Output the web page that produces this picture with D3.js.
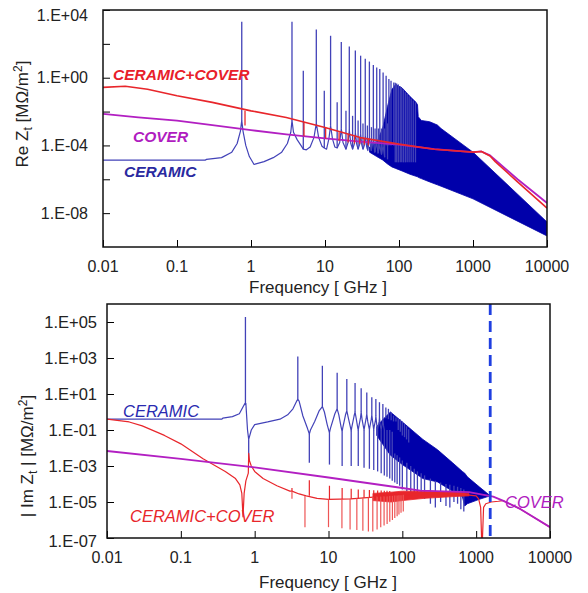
<!DOCTYPE html>
<html>
<head>
<meta charset="utf-8">
<script src="https://cdn.jsdelivr.net/npm/d3@7"></script>
<style>
  body { margin: 0; background: #fff; }
  text { font-family: "Liberation Sans", Arial, sans-serif; }
</style>
</head>
<body>
<svg width="588" height="593"></svg>
<script>
// ---------- shared axis data ----------
var xTicks = [0.01, 0.1, 1, 10, 100, 1000, 10000];
var xTickLabels = ["0.01", "0.1", "1", "10", "100", "1000", "10000"];

var reTicks = [1e4, 1e2, 1, 1e-2, 1e-4, 1e-6, 1e-8];
var reTickLabels = ["1.E+04", "", "1.E+00", "", "1.E-04", "", "1.E-08"];
var imTicks = [1e5, 1e3, 1e1, 1e-1, 1e-3, 1e-5, 1e-7];
var imTickLabels = ["1.E+05", "1.E+03", "1.E+01", "1.E-01", "1.E-03", "1.E-05", "1.E-07"];

// ---------- Re Zt (top panel) ----------
var reCover = [[0.01,7.4e-3],[0.03,4.5e-3],[0.1,2.9e-3],[0.3,1.6e-3],[1,8e-4],[3,4.5e-4],[10,2.6e-4],
  [30,1.7e-4],[100,1.1e-4],[300,6e-5],[1000,4e-5],[1300,4.4e-5],[1700,2.6e-5],[2000,1.4e-5],[4000,1e-6],[10000,4e-8]];

var reCerCover = [[0.01,0.27],[0.02,0.31],[0.04,0.21],[0.1,0.085],[0.3,0.035],[1,0.011],[3,4.5e-3],[10,1.15e-3],
  [30,2.9e-4],[100,1.2e-4],[300,6e-5],[1000,4e-5],[1300,4.4e-5],[1700,2.4e-5],[2000,1.1e-5],[4000,7e-7],[10000,2e-8]];
// short downward notches of the red curve: [freq, from, to]
var reCerCoverNotches = [[0.83,0.011,1.5e-3],[5.2,2.5e-3,3.5e-4],[10.2,1.1e-3,2.5e-4],[15.5,6e-4,1.8e-4],
  [20.5,4.5e-4,1.5e-4],[25,3.5e-4,1.3e-4],[29.5,3e-4,1.2e-4],[34,2.5e-4,1.1e-4],[38.5,2.2e-4,1e-4]];

var reCeramic = [[0.01,1.35e-5],[0.24,1.35e-5],[0.25,1.5e-5],[0.4,1.9e-5],[0.55,4e-5],[0.65,1.3e-4],[0.72,7e-4],
  [0.75,3e-3],[0.78,7e-4],[0.85,1e-4],[0.95,2.2e-5],[1.1,7.5e-6],[1.5,1.1e-5],[2,1.9e-5],[2.6,4e-5],[3.1,1.3e-4],
  [3.45,6e-4],[3.58,3e-3],[3.75,6e-4],[4.2,2.2e-4],[4.8,9e-5],[5.09,6e-5],[5.6,5.5e-5],[6.3,8e-5],[7.1,3e-4],
  [7.63,2e-3],[8.2,3e-4],[9.1,9e-5],[9.78,7e-5],[10.5,6e-5],[11.3,2.5e-4],[11.9,1.5e-3],[12.6,2.5e-4],[13.6,8e-5],
  [14.6,7e-5],[15.8,1.5e-4],[16.6,1e-3],[17.5,1.5e-4],[19.2,6e-5],[20.5,1.5e-4],[21.3,8e-4],[22.3,1.3e-4],
  [23.6,6e-5],[25,1.3e-4],[25.7,6e-4],[26.8,1.2e-4],[28,6e-5],[29.5,1.2e-4],[30.3,5e-4],[31.4,1.1e-4],
  [32.6,6e-5],[34.2,1.1e-4],[35,4e-4],[36.5,9e-5],[38,5e-5],[39.8,3e-4],[42,5e-5],[45,2e-4],[47,4e-5],
  [50,1.5e-4],[52,3.5e-5],[55,1e-4],[58,3e-5],[61,1e-4],[64,2e-5]];
// resonance spikes: [freq, foot, top]
var reCeramicSpikes = [[0.75,3e-3,2e3],[3.58,3e-3,2e3],[5.09,6e-5,2.6],[7.63,2e-3,700],[9.78,7e-5,0.17],
  [11.9,1.5e-3,300],[14.6,7e-5,0.035],[16.6,1e-3,130],[19.2,6e-5,0.011],[21.3,8e-4,71],[23.6,6e-5,5.6e-3],
  [25.7,6e-4,40],[28,6e-5,3e-3],[30.3,5e-4,20],[32.6,6e-5,2e-3],[35,4e-4,13],[37.4,6e-5,1.5e-3],[39.8,3e-4,9],
  [42.4,5e-5,1.2e-3],[45,2e-4,5.6],[47.5,4e-5,1e-3],[50,1.5e-4,4],[52.6,3.5e-5,1e-3],[55,1e-4,3.3],
  [58,3e-5,1e-3],[61,1e-4,2],[64,2e-5,1e-3],[67,1e-4,1.3],[70,1.5e-5,2e-3],[73,1e-4,0.85],[78,1e-4,0.66],
  [85,1e-4,0.53],[89,1e-5,0.5],[93,1e-5,0.45],[98,1e-5,0.4],[104,1e-5,0.3],[109,1e-5,0.25],[115,1e-5,0.2],
  [122,1e-5,0.14],[129,1e-5,0.11],[137,1e-5,0.08],[146,1e-5,0.06],[156,1e-5,0.045],[167,1e-5,0.035]];
// dense resonance band: [freq, lower envelope, upper envelope]
var reCeramicBand = [[40,4e-5,8e-5],[50,2.2e-5,1.5e-4],[60,1.4e-5,1e-3],[70,8e-6,0.02],[80,5.4e-6,0.2],
  [90,4.4e-6,0.4],[110,3.1e-6,0.25],[140,2e-6,0.08],[170,1.5e-6,0.035],[178,1.4e-6,0.025],[182,1.3e-6,5e-3],
  [200,1.1e-6,3e-3],[260,7e-7,2.5e-3],[330,4.7e-7,1.6e-3],[370,3.9e-7,1e-3],[1000,7e-8,4e-5],[10000,4.5e-10,3e-9]];

// ---------- |Im Zt| (bottom panel) ----------
var imCover = [[0.01,6.8e-3],[0.1,2.5e-3],[1,8.5e-4],[10,2.3e-4],[100,6e-5],[175,4.3e-5],[800,3.5e-5],
  [1700,2e-5],[2300,1.2e-5],[4000,4e-6],[10000,4e-7]];

var imCerCover = [[0.01,0.4],[0.02,0.28],[0.03,0.17],[0.06,0.05],[0.1,0.017],[0.2,2.5e-3],[0.4,5e-4],
  [0.55,2e-4],[0.63,9e-5],[0.67,3e-5],[0.695,1.5e-6],[0.72,3e-5],[0.76,1.5e-4],[0.82,4e-4],[0.83,5e-3],
  [0.85,2e-3],[0.9,1e-3],[1,5e-4],[1.3,2e-4],[2,8e-5],[3,4e-5],[3.2,4e-5],[4,2.8e-5],[5,2.2e-5],[7,1.6e-5],
  [10,1.4e-5],[20,1.5e-5],[50,2e-5],[100,2.5e-5],[300,2.8e-5],[700,2.6e-5],[1000,2.2e-5],[1080,1.5e-5],
  [1150,5e-6],[1190,5e-8],[1210,5e-8],[1260,5e-6],[1350,8e-6],[1600,1e-5],[2000,1.1e-5],[2300,1.2e-5],
  [4000,4e-6],[10000,4e-7]];
var imCerCoverDips = [[3.2,4e-5,1.5e-5],[4.8,2.2e-5,4e-7],[10,1.4e-5,4e-7],[15.2,1.4e-5,3.5e-7],[19.6,1.5e-5,3e-7],
  [24.2,1.6e-5,2.8e-7],[29.2,1.7e-5,2.5e-7],[34.7,1.8e-5,2.3e-7],[39.8,1.9e-5,2.3e-7],[45.5,2e-5,3e-7],
  [51,2e-5,4e-7],[56.6,2.1e-5,5e-7],[62.2,2.1e-5,6e-7],[67.6,2.2e-5,8e-7],[73.4,2.2e-5,1e-6],[79,2.3e-5,1.3e-6],
  [85,2.3e-5,1.6e-6],[90,2.4e-5,2e-6],[96,2.4e-5,2.5e-6],[103,2.5e-5,3e-6]];
var imCerCoverUps = [[3.2,4e-5,6e-5],[5.5,2.2e-5,1.6e-4],[10.3,1.4e-5,8e-5],[15.3,1.4e-5,6e-5],[20.3,1.5e-5,5.5e-5],
  [25.3,1.6e-5,5e-5],[30.3,1.7e-5,4.8e-5],[35.8,1.8e-5,4.6e-5],[41,1.9e-5,4.5e-5],[46.3,2e-5,4.4e-5],
  [51.7,2e-5,4.3e-5],[57,2.1e-5,4.2e-5],[62,2.1e-5,4.2e-5],[67.5,2.2e-5,4.1e-5]];
// dense red band: [freq, lower, upper]
var imCerCoverBand = [[40,1.2e-5,3e-5],[70,1e-5,3.5e-5],[100,1.2e-5,4e-5],[200,1.6e-5,4e-5],[500,2e-5,3.6e-5],[800,2.2e-5,3e-5]];

var imCeramic = [[0.01,0.4],[0.36,0.4],[0.37,0.46],[0.5,0.55],[0.62,0.8],[0.7,2],[0.74,3],[0.75,3],[0.76,3],
  [0.8,0.1],[0.83,0.03],[0.86,0.05],[0.9,0.1],[1,0.2],[1.5,0.28],[2.2,0.4],[2.8,0.7],[3.3,1.5],[3.7,4],[3.84,5],
  [4,4],[4.5,0.6],[5.2,0.12],[5.5,0.06],[5.7,0.1],[6.5,0.3],[7.5,1.2],[8.26,2],[8.8,1],[9.6,0.2],[10.3,0.07],
  [10.6,0.12],[12.2,0.8],[13.1,1.5],[13.8,0.7],[14.8,0.15],[15.3,0.08],[15.6,0.13],[17,0.7],[17.7,1.2],[18.5,0.5],
  [20,0.12],[20.3,0.09],[20.6,0.13],[22.2,0.6],[22.9,1],[23.8,0.4],[25,0.12],[25.3,0.1],[25.7,0.15],[27.2,0.5],
  [27.7,1],[28.6,0.35],[30.3,0.1],[30.8,0.15],[32.5,0.5],[33,0.8],[34,0.3],[35.8,0.1],[36.3,0.15],[38,0.4],
  [38.6,0.7],[39.8,0.25],[41,0.1],[41.5,0.15],[43.3,0.35],[43.8,0.6],[45,0.2],[46.3,0.1],[46.8,0.14],[48.5,0.3],
  [49,0.5],[50,0.2],[51.7,0.1],[52.2,0.13],[54,0.28],[54.5,0.5],[55.5,0.18],[57,0.1]];
var imCeramicPeaks = [[0.75,3,1.9e5],[3.84,5,1.2e3],[8.26,2,370],[13.1,1.5,150],[17.7,1.2,68],[22.9,1,41],
  [27.7,1,21],[33,0.8,12],[38.6,0.7,6.6],[43.8,0.6,5.2],[49,0.5,3.5],[54.5,0.5,2.8],[59.8,0.45,1.8],
  [64.8,0.4,1.5],[70.5,0.35,0.95],[76,0.3,0.63],[82,0.3,0.5],[88,0.1,0.45],[94,0.08,0.38],[100,0.05,0.3],
  [107,0.04,0.22],[114,0.03,0.16],[122,0.02,0.11]];
var imCeramicAnti = [[0.83,0.03,2e-3],[5.5,0.06,1.5e-3],[10.3,0.07,1.2e-3],[15.3,0.08,1e-3],[20.3,0.09,1e-3],
  [25.3,0.1,1e-3],[30.3,0.1,8e-4],[35.8,0.1,7e-4],[41,0.1,6e-4],[46.3,0.1,5e-4],[51.7,0.1,4e-4],[57,0.1,3e-4],
  [62,0.1,2.5e-4],[67.5,0.1,2e-4],[73,0.08,1.5e-4],[79,5e-3,1.2e-4],[85,4e-3,1e-4],[92,3e-3,8e-5],
  [100,2e-3,5e-5],[115,1.5e-3,4e-5],[130,1e-3,3e-5],[145,7e-4,2.5e-5],[160,5e-4,2e-5],[180,4e-4,1.8e-5],
  [200,3e-4,1.5e-5],[240,2e-4,8e-6],[280,1.5e-4,5e-6],[330,1.2e-4,1e-5],[390,1e-4,6e-6],[440,9e-5,5e-6],
  [500,8e-5,1e-5],[560,7e-5,8e-6],[620,6e-5,4e-6],[680,5e-5,3e-6]];
var imCeramicBand = [[45,0.05,0.15],[55,0.015,0.4],[69,4e-3,1],[100,1.2e-3,0.28],[190,2e-4,0.03],[300,1.3e-4,8e-3],
  [480,4e-5,1.5e-3],[650,2e-5,5e-4],[700,6e-6,4e-4],[760,8e-6,2.5e-4],[1100,1.4e-5,7e-5],[1550,2.2e-5,2.2e-5]];

var markerFreq = 1550;

// ---------- drawing ----------
var svg = d3.select("svg");
var BLUE_LIGHT = "#4242b8", BAND = "#0000aa", RED = "#e8262b", MAG = "#b21fc2";

function panel(cfg) {
  var x = d3.scaleLog().domain([0.01, 10000]).range([cfg.left, cfg.right]);
  var y = d3.scaleLog().domain(cfg.yDomain).range([cfg.bottom, cfg.top]);
  var g = svg.append("g");

  g.append("clipPath").attr("id", cfg.id)
    .append("rect").attr("x", cfg.left).attr("y", cfg.top)
    .attr("width", cfg.right - cfg.left).attr("height", cfg.bottom - cfg.top);
  var plot = g.append("g").attr("clip-path", "url(#" + cfg.id + ")");

  // inward ticks
  g.append("g").attr("transform", "translate(0," + cfg.bottom + ")")
    .call(d3.axisTop(x).tickValues(xTicks).tickSize(7).tickFormat(""))
    .call(function(a) { a.select(".domain").remove(); });
  g.append("g").attr("transform", "translate(" + cfg.left + ",0)")
    .call(d3.axisRight(y).tickValues(cfg.yTicks).tickSize(7).tickFormat(""))
    .call(function(a) { a.select(".domain").remove(); });

  // tick labels (labels at the very edge of the frame sit slightly inside it)
  g.selectAll(".xl").data(xTicks).enter().append("text")
    .attr("x", function(d) { return x(d); }).attr("y", cfg.bottom + 25)
    .attr("text-anchor", "middle").attr("font-size", 16).attr("fill", "#222")
    .text(function(d, i) { return xTickLabels[i]; });
  g.selectAll(".yl").data(cfg.yTicks).enter().append("text")
    .attr("x", cfg.left - cfg.labelGap)
    .attr("y", function(d) {
      var yy = y(d) + 5.5;
      if (Math.abs(y(d) - cfg.top) < 2) yy += 5;
      if (Math.abs(y(d) - cfg.bottom) < 2) yy += 3;
      return yy;
    })
    .attr("text-anchor", "end").attr("font-size", cfg.yFont).attr("fill", "#222")
    .text(function(d, i) { return cfg.yTickLabels[i]; });

  g.append("text").attr("x", cfg.titleX).attr("y", cfg.bottom + cfg.titleGap)
    .attr("text-anchor", "middle").attr("font-size", 17).attr("fill", "#222")
    .text("Frequency [ GHz ]");

  return { x: x, y: y, g: g, plot: plot };
}

function lineOf(p) {
  return d3.line().x(function(d) { return p.x(d[0]); }).y(function(d) { return p.y(d[1]); });
}
function spikes(p, data, color, width) {
  var ln = lineOf(p);
  p.plot.append("g").selectAll("path").data(data).enter().append("path")
    .attr("d", function(d) { return ln([[d[0], d[1]], [d[0], d[2]]]); })
    .attr("stroke", color).attr("stroke-width", width).attr("fill", "none");
}
function band(p, data, color) {
  p.plot.append("path").datum(data)
    .attr("d", d3.area().x(function(d) { return p.x(d[0]); })
      .y0(function(d) { return p.y(d[1]); }).y1(function(d) { return p.y(d[2]); }))
    .attr("fill", color).attr("stroke", color).attr("stroke-width", 0.8);
}
function curve(p, data, color, width) {
  p.plot.append("path").datum(data).attr("d", lineOf(p))
    .attr("fill", "none").attr("stroke", color).attr("stroke-width", width)
    .attr("stroke-linejoin", "round");
}
function frame(p, cfg) {
  p.g.append("rect").attr("x", cfg.left).attr("y", cfg.top)
    .attr("width", cfg.right - cfg.left).attr("height", cfg.bottom - cfg.top)
    .attr("fill", "none").attr("stroke", "#111").attr("stroke-width", 1.5);
}
function label(p, txt, xx, yy, color, weight, size) {
  p.g.append("text").attr("x", xx).attr("y", yy).attr("fill", color)
    .attr("font-size", size).attr("font-style", "italic").attr("font-weight", weight).text(txt);
}

// top panel
var topCfg = { id: "clipTop", left: 103, right: 547, top: 10, bottom: 247, yDomain: [1e-10, 1e4],
  yTicks: reTicks, yTickLabels: reTickLabels, labelGap: 15, yFont: 16, titleX: 318, titleGap: 46 };
var pt = panel(topCfg);
band(pt, reCeramicBand, BAND);
curve(pt, reCeramic, BLUE_LIGHT, 1.2);
spikes(pt, reCeramicSpikes, BLUE_LIGHT, 1.3);
curve(pt, reCover, MAG, 1.8);
curve(pt, reCerCover, RED, 1.6);
spikes(pt, reCerCoverNotches, RED, 1.3);
frame(pt, topCfg);
label(pt, "CERAMIC+COVER", 113, 80, "#e8202a", "bold", 15.5);
label(pt, "COVER", 133, 142, "#b01cc0", "bold", 15.5);
label(pt, "CERAMIC", 124, 177, "#2a2aa0", "bold", 15.5);
pt.g.append("text").attr("transform", "translate(28,114) rotate(-90)")
  .attr("text-anchor", "middle").attr("font-size", 17).attr("fill", "#222")
  .html('Re Z<tspan font-size="12" dy="4">t</tspan><tspan dy="-4"> [MΩ/m</tspan><tspan font-size="12" dy="-6">2</tspan><tspan dy="6">]</tspan>');

// bottom panel
var botCfg = { id: "clipBot", left: 107, right: 550, top: 304, bottom: 538, yDomain: [1e-7, 1e6],
  yTicks: imTicks, yTickLabels: imTickLabels, labelGap: 10, yFont: 16.5, titleX: 328, titleGap: 50 };
var pb = panel(botCfg);
band(pb, imCeramicBand, BAND);
curve(pb, imCeramic, BLUE_LIGHT, 1.2);
spikes(pb, imCeramicPeaks, BLUE_LIGHT, 1.3);
spikes(pb, imCeramicAnti, BLUE_LIGHT, 1.3);
band(pb, imCerCoverBand, RED);
curve(pb, imCerCover, RED, 1.2);
spikes(pb, imCerCoverDips, "#ee5555", 1.2);
spikes(pb, imCerCoverUps, RED, 1.2);
curve(pb, imCover, MAG, 1.8);
pb.plot.append("line")
  .attr("x1", pb.x(markerFreq)).attr("x2", pb.x(markerFreq))
  .attr("y1", botCfg.top).attr("y2", botCfg.bottom)
  .attr("stroke", "#1f3fe0").attr("stroke-width", 2.8).attr("stroke-dasharray", "11,6");
frame(pb, botCfg);
label(pb, "CERAMIC", 123, 417, "#2a2ab0", "normal", 16.5);
label(pb, "CERAMIC+COVER", 130, 522, "#e8262b", "normal", 16.5);
label(pb, "COVER", 505, 508, "#b01cc0", "normal", 16.5);
pb.g.append("text").attr("transform", "translate(33,456) rotate(-90)")
  .attr("text-anchor", "middle").attr("font-size", 17).attr("fill", "#222")
  .html('| Im Z<tspan font-size="12" dy="4">t</tspan><tspan dy="-4"> | [MΩ/m</tspan><tspan font-size="12" dy="-6">2</tspan><tspan dy="6">]</tspan>');
</script>
</body>
</html>
